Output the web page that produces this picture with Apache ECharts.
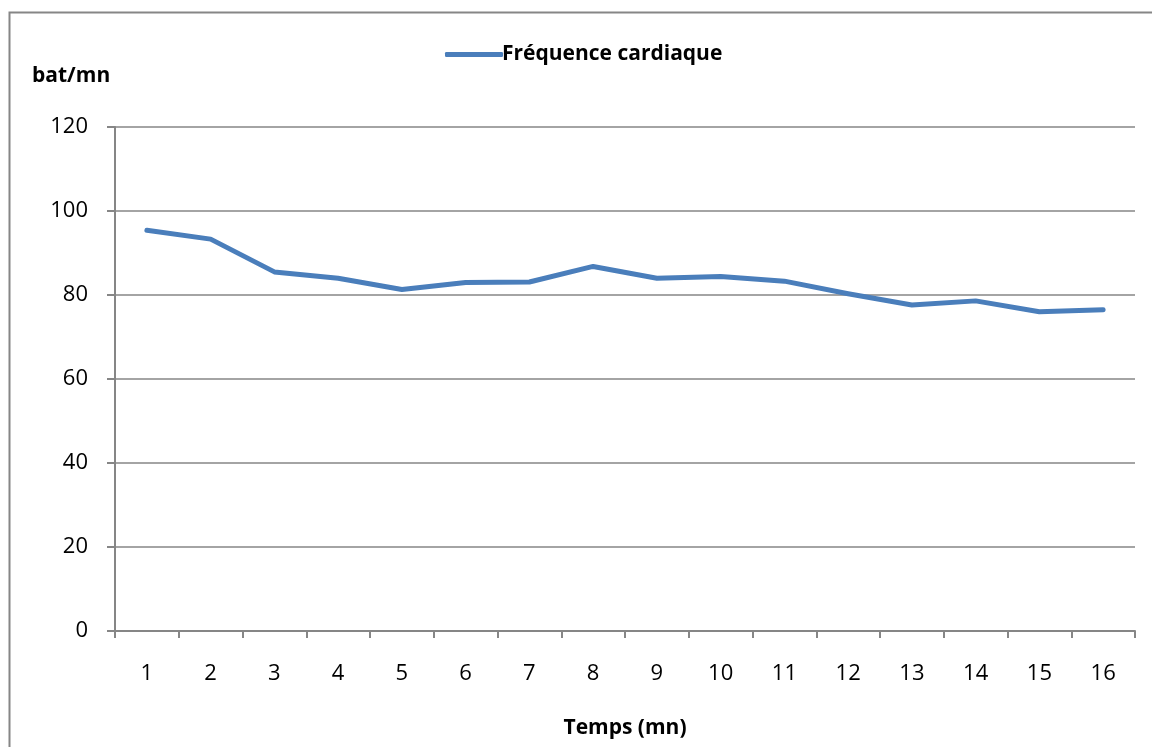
<!DOCTYPE html>
<html>
<head>
<meta charset="utf-8">
<script src="https://cdn.jsdelivr.net/npm/echarts@6/dist/echarts.min.js"></script>
<style>
  html, body { margin: 0; padding: 0; background: #fff; }
  #chart { width: 1152px; height: 747px; }
</style>
</head>
<body>
<div id="chart"></div>
<script>
// minutes and heart rate readings
const minutes = ["1", "2", "3", "4", "5", "6", "7", "8", "9", "10", "11", "12", "13", "14", "15", "16"];
const heartRate = [95.4, 93.3, 85.5, 84.0, 81.3, 83.0, 83.1, 86.8, 84.0, 84.4, 83.3, 80.3, 77.6, 78.6, 76.0, 76.5];
const seriesName = "Fréquence cardiaque";

const gray = "#868686";
const font = "'Open Sans', 'Liberation Sans', sans-serif";

const chart = echarts.init(document.getElementById("chart"));

chart.setOption({
  animation: false,
  textStyle: { fontFamily: font },
  graphic: [
    {
      type: "rect",
      shape: { x: 9.5, y: 12.5, width: 1200, height: 800 },
      style: { fill: "none", stroke: gray, lineWidth: 2 }
    }
  ],
  legend: {
    data: [seriesName],
    left: 440,
    top: 39,
    itemWidth: 58,
    itemHeight: 5,
    itemGap: 4,
    icon: "roundRect",
    textStyle: { fontSize: 21, fontWeight: "bold", color: "#000", fontFamily: font, padding: [0, 0, 0, -6] }
  },
  grid: { left: 115, right: 17, top: 127, bottom: 116 },
  xAxis: {
    type: "category",
    data: minutes,
    boundaryGap: true,
    name: "Temps (mn)",
    nameLocation: "middle",
    nameGap: 87,
    nameTextStyle: { fontSize: 21, fontWeight: "bold", color: "#000" },
    axisLine: { lineStyle: { color: gray, width: 2 } },
    axisTick: { show: true, length: 7, lineStyle: { color: gray, width: 2 } },
    axisLabel: { fontSize: 22, color: "#000", margin: 32 }
  },
  yAxis: {
    type: "value",
    min: 0,
    max: 120,
    interval: 20,
    name: "bat/mn",
    nameLocation: "end",
    nameGap: 0,
    nameTextStyle: { fontSize: 21, fontWeight: "bold", color: "#000", align: "left", padding: [0, 0, 40, -83] },
    axisLine: { show: true, lineStyle: { color: gray, width: 2 } },
    axisTick: { show: true, length: 8, lineStyle: { color: gray, width: 2 } },
    axisLabel: { fontSize: 22, color: "#000", margin: 27 },
    splitLine: { lineStyle: { color: gray, width: 1.5 } }
  },
  series: [
    {
      name: seriesName,
      type: "line",
      data: heartRate,
      symbol: "none",
      itemStyle: { color: "#4A7EBB" },
      lineStyle: { color: "#4A7EBB", width: 5, cap: "round", join: "round" }
    }
  ]
});
</script>
</body>
</html>
